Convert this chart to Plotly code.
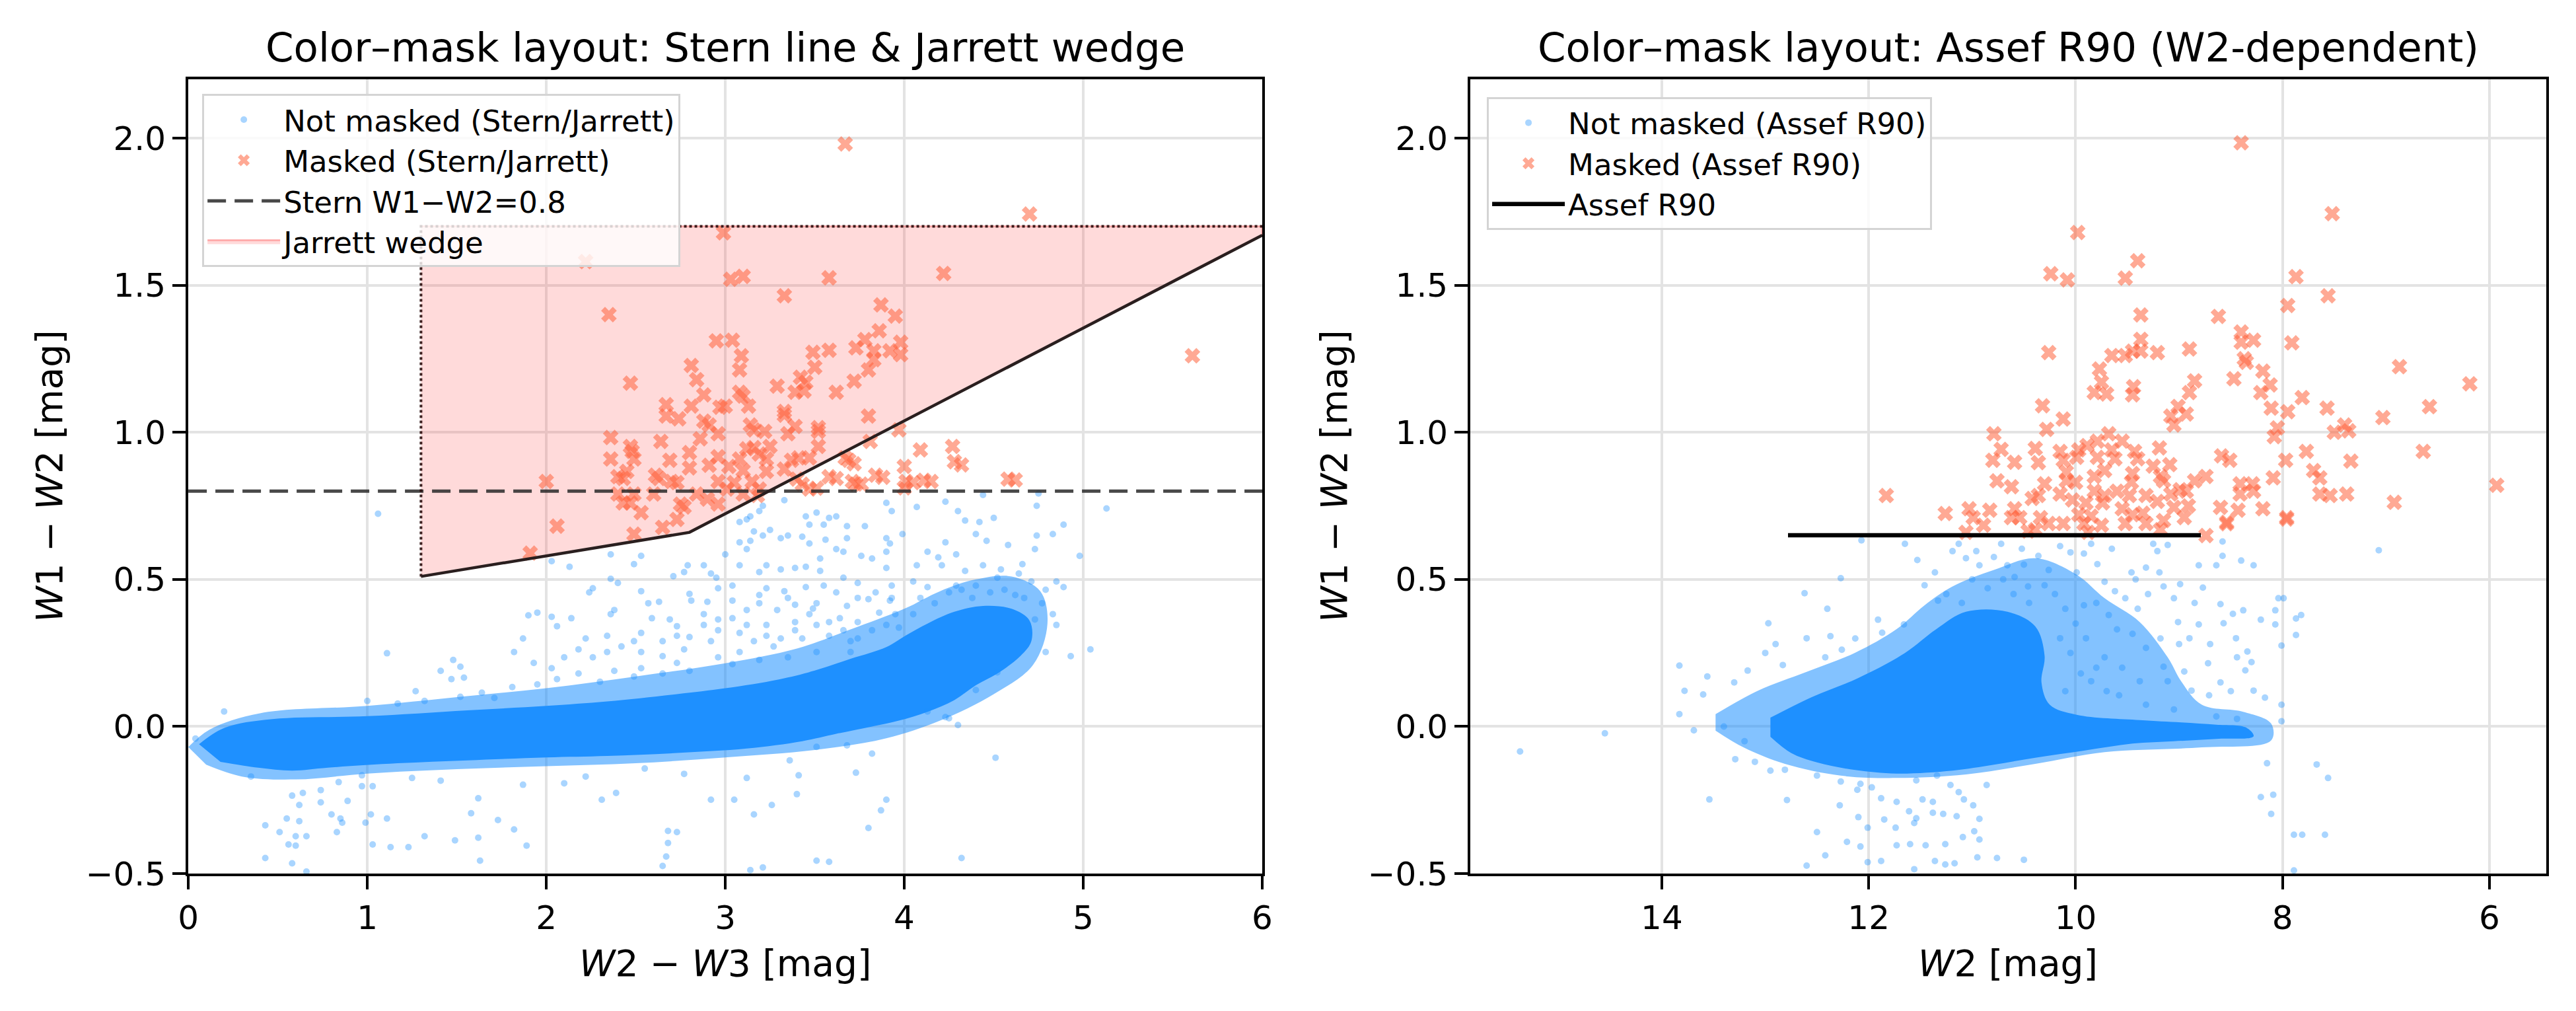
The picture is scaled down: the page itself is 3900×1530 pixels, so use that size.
import plotly.graph_objects as go

# ---------------- left panel: W2-W3 vs W1-W2 (Stern / Jarrett) ----------------
left_xrange = [0, 6]
left_yrange = [-0.5, 2.2]
stern_cut = 0.8
wedge_x = [1.3, 2.8, 6.0, 6.0, 1.3]
wedge_y = [0.51, 0.66, 1.67, 1.70, 1.70]

# dense band (solid) and its halo, outlines
stern_core = [(0.06, -0.06), (0.2, -0.005), (0.47, 0.025), (1.0, 0.035), (1.56, 0.055), (2.0, 0.07),
              (2.34, 0.085), (2.73, 0.11), (3.0, 0.13), (3.3, 0.16), (3.5, 0.19), (3.7, 0.23),
              (3.9, 0.27), (4.01, 0.31), (4.13, 0.35), (4.28, 0.39), (4.44, 0.41), (4.6, 0.40),
              (4.7, 0.36), (4.71, 0.29), (4.65, 0.24), (4.52, 0.18), (4.40, 0.14), (4.28, 0.09),
              (4.13, 0.05), (3.97, 0.02), (3.82, 0.0), (3.62, -0.025), (3.43, -0.05), (3.12, -0.075),
              (2.73, -0.09), (2.34, -0.10), (2.0, -0.105), (1.56, -0.115), (1.17, -0.125), (0.78, -0.14),
              (0.58, -0.15), (0.39, -0.14), (0.18, -0.12)]
stern_fringe = [(0.0, -0.07), (0.12, -0.01), (0.4, 0.045), (1.0, 0.07), (1.5, 0.10), (2.0, 0.13),
                (2.5, 0.17), (3.0, 0.215), (3.4, 0.265), (3.7, 0.33), (4.0, 0.40), (4.2, 0.46), (4.4, 0.50),
                (4.6, 0.51), (4.76, 0.46), (4.8, 0.35), (4.72, 0.21), (4.5, 0.11), (4.2, 0.02), (3.9, -0.04),
                (3.5, -0.08), (3.0, -0.105), (2.5, -0.125), (2.0, -0.135), (1.5, -0.145), (1.0, -0.16),
                (0.6, -0.18), (0.3, -0.17), (0.1, -0.13)]

stern_clear = [
    (1.06, 0.723), (1.11, 0.249), (1.48, 0.226), (1.52, 0.203), (1.41, 0.189), (1.47, 0.161), (1.54, 0.166),
    (1.82, 0.253), (1.87, 0.299), (1.95, 0.387), (1.90, 0.378), (2.03, 0.373), (2.14, 0.368), (2.06, 0.341),
    (2.13, 0.543), (2.03, 0.562), (2.36, 0.585), (2.53, 0.580), (2.49, 0.552), (2.24, 0.456), (2.26, 0.470),
    (2.36, 0.502), (2.40, 0.488), (2.53, 0.460), (2.38, 0.396), (2.36, 0.382), (2.57, 0.419), (2.63, 0.424),
    (2.59, 0.368), (2.69, 0.364), (2.73, 0.341), (2.80, 0.451), (2.81, 0.428), (2.90, 0.424), (2.88, 0.548),
    (2.79, 0.548), (2.71, 0.511), (2.77, 0.525), (2.92, 0.520), (2.95, 0.506), (3.04, 0.479), (2.96, 0.470),
    (3.00, 0.585), (3.08, 0.626), (3.14, 0.631), (3.12, 0.603), (3.21, 0.649), (3.16, 0.663), (3.25, 0.668),
    (3.31, 0.640), (3.12, 0.704), (3.08, 0.695), (3.14, 0.714), (3.19, 0.732), (3.21, 0.750), (3.33, 0.769),
    (3.45, 0.714), (3.51, 0.727), (3.47, 0.686), (3.55, 0.686), (3.68, 0.681), (3.78, 0.681), (3.58, 0.709),
    (3.62, 0.714), (3.35, 0.649), (3.43, 0.645), (3.47, 0.622), (3.56, 0.635), (3.68, 0.640), (3.90, 0.640),
    (3.99, 0.654), (3.92, 0.622), (4.07, 0.746), (3.90, 0.760), (3.93, 0.732), (4.23, 0.764), (4.30, 0.732),
    (4.34, 0.700), (4.42, 0.695), (4.50, 0.709), (4.44, 0.787), (4.75, 0.792), (4.74, 0.750), (4.89, 0.686),
    (4.83, 0.654), (4.74, 0.649), (4.73, 0.603), (4.98, 0.580), (5.13, 0.741), (4.40, 0.654), (4.46, 0.631),
    (4.58, 0.617), (4.23, 0.626), (4.13, 0.594), (4.19, 0.575), (4.29, 0.585), (4.07, 0.548), (4.21, 0.548),
    (4.34, 0.529), (4.44, 0.548), (4.54, 0.534), (4.66, 0.552), (4.64, 0.520), (4.52, 0.506), (4.71, 0.493),
    (4.85, 0.493), (4.89, 0.474), (4.79, 0.465), (3.90, 0.594), (3.90, 0.539), (3.82, 0.571), (3.76, 0.580),
    (3.66, 0.594), (3.62, 0.603), (3.53, 0.571), (3.53, 0.529), (3.39, 0.539), (3.31, 0.534), (3.45, 0.543),
    (3.23, 0.548), (3.19, 0.525), (3.08, 0.548), (3.23, 0.470), (3.33, 0.460), (3.45, 0.474), (3.55, 0.479),
    (3.66, 0.506), (3.74, 0.488), (3.84, 0.456), (3.93, 0.479), (4.05, 0.493), (3.92, 0.428), (3.80, 0.433),
    (3.68, 0.410), (3.49, 0.401), (3.39, 0.414), (3.29, 0.396), (3.19, 0.419), (3.12, 0.396), (3.04, 0.368),
    (2.96, 0.364), (2.88, 0.382), (3.12, 0.345), (3.23, 0.345), (3.39, 0.355), (3.51, 0.345), (3.64, 0.368),
    (3.74, 0.355), (3.86, 0.387), (3.95, 0.382), (2.80, 0.304), (2.92, 0.290), (2.77, 0.262), (2.65, 0.239),
    (2.53, 0.253), (2.49, 0.290), (2.34, 0.308), (2.22, 0.299), (2.18, 0.262), (2.10, 0.235), (2.03, 0.198),
    (1.93, 0.216), (2.18, 0.180), (2.38, 0.189), (2.53, 0.198), (2.73, 0.216), (2.96, 0.235), (3.08, 0.253),
    (3.27, 0.272), (3.43, 0.299), (3.58, 0.308), (3.70, 0.290), (5.04, 0.262), (4.93, 0.239), (4.79, 0.253),
    (4.85, 0.345), (4.83, 0.382), (4.73, 0.364), (4.77, 0.419), (4.52, 0.184), (4.40, 0.124), (4.30, 0.005),
    (4.23, 0.032), (4.13, 0.051), (4.51, -0.106), (3.82, -0.092), (3.68, -0.064), (3.51, -0.069), (4.25, 0.028),
    (1.00, 0.087), (1.17, 0.078), (1.27, 0.120), (1.32, 0.087), (1.52, 0.101), (1.64, 0.115), (1.71, 0.097),
    (1.81, 0.134), (1.95, 0.143), (2.06, 0.161), (2.30, 0.152), (2.49, 0.170), (2.65, 0.180), (2.80, 0.189),
    (3.04, 0.212), (3.19, 0.226), (3.35, 0.235), (3.51, 0.253), (3.70, 0.253),
    (4.09, 0.437), (4.17, 0.419), (4.25, 0.456), (4.32, 0.465), (4.38, 0.437), (4.48, 0.456), (4.56, 0.465),
    (4.62, 0.447), (4.67, 0.437), (4.29, 0.479), (4.40, 0.479), (4.13, 0.474), (3.39, 0.327), (3.47, 0.382),
    (3.58, 0.355), (3.66, 0.327), (3.74, 0.299), (3.82, 0.327), (3.90, 0.345), (3.97, 0.336), (4.05, 0.382),
    (3.31, 0.299), (3.23, 0.308), (3.16, 0.290), (3.08, 0.318), (2.96, 0.327), (2.88, 0.345), (2.73, 0.308),
    (2.65, 0.290), (2.53, 0.318), (2.42, 0.272), (2.34, 0.253), (2.26, 0.235), (3.51, 0.419), (3.62, 0.456),
    (3.74, 0.437), (3.93, 0.437), (3.35, 0.437), (3.19, 0.447), (3.04, 0.428),
    (0.20, 0.051), (0.04, -0.041), (0.35, -0.170), (0.58, -0.235), (0.64, -0.226), (0.62, -0.267),
    (0.74, -0.216), (0.74, -0.258), (0.84, -0.189), (0.89, -0.253), (0.97, -0.203), (1.03, -0.203),
    (0.43, -0.336), (0.55, -0.313), (0.62, -0.322), (0.51, -0.359), (0.60, -0.373), (0.66, -0.373),
    (0.56, -0.401), (0.60, -0.405), (0.43, -0.447), (0.58, -0.465), (0.66, -0.493), (0.80, -0.299),
    (0.85, -0.313), (0.83, -0.359), (0.86, -0.327), (0.99, -0.327), (1.02, -0.299), (1.11, -0.313),
    (1.03, -0.401), (1.13, -0.410), (1.23, -0.410), (1.32, -0.373), (1.49, -0.387), (1.58, -0.295),
    (1.62, -0.244), (1.62, -0.378), (1.63, -0.456), (1.73, -0.318), (1.82, -0.350), (1.89, -0.405),
    (1.87, -0.198), (1.41, -0.184), (1.25, -0.175), (0.97, -0.166), (2.10, -0.193), (2.22, -0.170),
    (2.39, -0.226), (2.31, -0.249), (2.55, -0.143), (2.77, -0.161), (2.92, -0.249), (3.05, -0.249),
    (3.12, -0.175), (3.26, -0.267), (3.16, -0.299), (3.40, -0.230), (3.41, -0.166), (3.36, -0.115),
    (3.73, -0.157), (3.90, -0.249), (3.87, -0.285), (3.80, -0.345), (2.68, -0.355), (2.73, -0.359),
    (2.68, -0.396), (2.67, -0.442), (2.65, -0.474), (3.14, -0.488), (3.21, -0.479), (3.51, -0.456),
    (3.58, -0.460), (4.32, -0.447)]

stern_masked = [
    (3.67, 1.98), (4.70, 1.742), (2.99, 1.678), (2.22, 1.58), (3.03, 1.52), (3.10, 1.53), (3.58, 1.525),
    (4.22, 1.54), (3.33, 1.464), (2.35, 1.40), (3.87, 1.433), (3.95, 1.395), (2.95, 1.311), (3.04, 1.313),
    (3.86, 1.345), (3.78, 1.315), (3.98, 1.306), (3.98, 1.264), (3.73, 1.287), (3.92, 1.277), (3.83, 1.277),
    (3.83, 1.247), (3.49, 1.272), (3.58, 1.279), (3.09, 1.26), (3.08, 1.212), (3.50, 1.221), (3.80, 1.212),
    (2.81, 1.227), (2.84, 1.179), (2.47, 1.167), (3.42, 1.187), (3.45, 1.170), (3.72, 1.174), (3.29, 1.157),
    (2.88, 1.127), (3.08, 1.136), (3.10, 1.123), (3.39, 1.136), (3.44, 1.14), (3.62, 1.136), (2.67, 1.094),
    (2.81, 1.089), (3.00, 1.089), (2.97, 1.085), (3.13, 1.089), (3.33, 1.071), (3.33, 1.058), (3.80, 1.055),
    (2.67, 1.055), (2.74, 1.046), (2.88, 1.038), (2.91, 1.025), (3.14, 1.025), (3.16, 1.008), (3.22, 1.003),
    (3.39, 1.02), (3.35, 0.995), (3.52, 1.016), (3.52, 1.003), (2.96, 0.995), (3.97, 1.008), (2.36, 0.982),
    (2.64, 0.969), (2.86, 0.978), (3.81, 0.969), (2.47, 0.952), (2.48, 0.935), (2.80, 0.931), (3.12, 0.944),
    (3.16, 0.948), (3.25, 0.952), (4.09, 0.94), (4.27, 0.952), (4.28, 0.90), (2.36, 0.909), (2.49, 0.909),
    (2.69, 0.905), (2.80, 0.879), (2.91, 0.888), (2.96, 0.917), (3.02, 0.884), (3.08, 0.909), (3.10, 0.870),
    (3.19, 0.926), (3.23, 0.909), (3.23, 0.867), (3.37, 0.905), (3.41, 0.913), (3.47, 0.913), (3.52, 0.952),
    (3.33, 0.875), (3.67, 0.913), (3.69, 0.905), (2.00, 0.833), (2.40, 0.849), (2.45, 0.867), (2.61, 0.854),
    (2.70, 0.833), (2.40, 0.79), (2.49, 0.79), (2.60, 0.79), (3.58, 0.849), (3.84, 0.854), (3.71, 0.833),
    (3.73, 0.824), (4.01, 0.833), (4.11, 0.837), (4.58, 0.841), (4.00, 0.811), (2.84, 0.79), (2.96, 0.833),
    (3.01, 0.807), (3.05, 0.829), (3.15, 0.833), (3.19, 0.807), (3.40, 0.841), (3.47, 0.807), (2.96, 0.756),
    (2.75, 0.756), (2.47, 0.76), (2.06, 0.681), (1.91, 0.589), (2.49, 0.654), (2.43, 0.760), (2.53, 0.727),
    (2.73, 0.704), (2.77, 0.746), (2.65, 0.677), (2.90, 0.773), (2.43, 0.843), (2.63, 0.843), (2.73, 0.829),
    (3.62, 0.843), (3.76, 0.824), (3.88, 0.847), (4.05, 0.829), (4.15, 0.833), (4.62, 0.838), (4.32, 0.889),
    (4.00, 0.884), (3.72, 0.893), (3.43, 0.824), (3.51, 0.81), (5.61, 1.26), (3.10, 0.79), (3.18, 0.785)]

# ---------------- right panel: W2 vs W1-W2 (Assef R90) ----------------
right_xrange = [15.85, 5.45]
right_yrange = [-0.5, 2.2]
assef_x = [12.78, 8.79]
assef_y = [0.65, 0.65]

assef_core = [(12.95, 0.03), (12.55, 0.10), (12.1, 0.165), (11.65, 0.25), (11.35, 0.33), (11.06, 0.39),
              (10.66, 0.39), (10.39, 0.34), (10.30, 0.24), (10.33, 0.15), (10.25, 0.074), (9.99, 0.04),
              (9.38, 0.022), (8.98, 0.014), (8.64, 0.006), (8.35, -0.004), (8.28, -0.033), (8.64, -0.042),
              (9.05, -0.05), (9.45, -0.058), (9.92, -0.082), (10.39, -0.106), (10.79, -0.13), (11.19, -0.15),
              (11.73, -0.16), (12.13, -0.148), (12.5, -0.122), (12.75, -0.09), (12.95, -0.035)]
assef_fringe = [(13.48, 0.042), (13.07, 0.122), (12.60, 0.186), (12.13, 0.251), (11.73, 0.331), (11.46, 0.412),
                (11.19, 0.476), (10.79, 0.532), (10.39, 0.572), (9.99, 0.516), (9.72, 0.436), (9.38, 0.355),
                (9.11, 0.235), (8.98, 0.154), (8.78, 0.074), (8.38, 0.050), (8.11, 0.010), (8.11, -0.047),
                (8.78, -0.071), (9.72, -0.087), (10.39, -0.127), (11.06, -0.163), (11.73, -0.175), (12.27, -0.167),
                (12.81, -0.127), (13.21, -0.071), (13.48, -0.014)]

assef_clear = [
    (15.37, -0.085), (14.55, -0.023), (13.83, 0.207), (13.83, 0.042), (13.78, 0.121), (13.60, 0.109),
    (13.56, 0.170), (13.69, -0.013), (13.54, -0.248), (13.29, -0.111), (13.17, 0.190), (12.97, 0.351),
    (12.83, 0.209), (12.79, -0.250), (12.62, 0.453), (12.42, 0.235), (12.37, 0.307), (12.27, 0.504),
    (12.26, 0.261), (12.13, 0.299), (12.07, 0.633), (11.91, 0.363), (11.87, 0.319), (11.66, 0.347),
    (11.65, 0.621), (11.53, 0.566), (11.46, 0.480), (11.36, 0.524), (11.33, 0.428), (11.19, 0.596),
    (11.13, 0.621), (11.06, 0.572), (10.96, 0.596), (10.93, 0.548), (10.79, 0.576), (10.72, 0.621),
    (10.66, 0.548), (10.59, 0.508), (10.52, 0.604), (10.46, 0.476), (10.36, 0.580), (10.26, 0.532),
    (10.15, 0.613), (10.05, 0.592), (9.99, 0.524), (9.92, 0.588), (9.85, 0.621), (9.79, 0.552),
    (9.72, 0.492), (9.65, 0.604), (9.62, 0.460), (9.52, 0.436), (9.46, 0.524), (9.42, 0.500),
    (9.32, 0.540), (9.25, 0.621), (9.21, 0.596), (9.19, 0.524), (9.11, 0.617), (9.15, 0.476),
    (9.05, 0.436), (9.01, 0.355), (8.99, 0.484), (8.85, 0.420), (8.81, 0.548), (8.81, 0.347),
    (8.77, 0.472), (8.72, 0.215), (8.64, 0.548), (8.60, 0.416), (8.58, 0.629), (8.58, 0.580),
    (8.57, 0.351), (8.48, 0.383), (8.40, 0.564), (8.38, 0.395), (8.44, 0.235), (8.34, 0.255),
    (8.30, 0.219), (8.28, 0.548), (8.36, 0.191), (8.28, 0.122), (8.21, 0.363), (8.17, 0.098),
    (8.07, 0.395), (8.07, 0.347), (8.04, 0.436), (8.01, 0.275), (8.01, 0.074), (7.99, 0.436),
    (8.01, 0.018), (7.87, 0.311), (7.87, 0.367), (7.82, 0.379), (7.07, 0.599), (8.15, -0.125),
    (7.67, -0.129), (7.56, -0.175), (8.21, -0.240), (8.09, -0.232), (8.11, -0.297), (7.89, -0.368),
    (7.81, -0.368), (7.59, -0.368), (7.89, -0.489), (8.71, 0.106), (8.44, 0.026), (8.64, 0.034),
    (9.05, 0.058), (9.32, 0.074), (9.58, 0.106), (9.85, 0.154), (9.38, 0.154), (9.11, 0.154),
    (9.72, 0.235), (9.32, 0.267), (9.15, 0.203), (8.95, 0.187), (8.88, 0.122), (9.45, 0.315),
    (9.18, 0.299), (9.68, 0.379), (9.92, 0.412),
    (10.2, 0.45), (10.1, 0.40), (10.0, 0.35), (10.15, 0.30), (10.05, 0.25), (9.9, 0.30), (9.8, 0.20),
    (9.95, 0.18), (10.1, 0.12), (9.7, 0.12), (9.55, 0.20), (9.6, 0.33), (9.8, 0.42), (10.3, 0.48),
    (10.45, 0.42), (10.6, 0.45), (10.7, 0.50), (10.85, 0.47), (11.0, 0.50), (11.25, 0.45), (11.1, 0.42),
    (10.5, 0.55), (9.4, 0.40), (9.3, 0.45), (9.0, 0.28), (8.9, 0.30), (8.7, 0.28), (8.6, 0.15), (8.5, 0.12),
    (8.45, 0.30), (13.0, 0.25), (13.3, 0.15), (13.4, 0.0), (13.2, -0.05), (12.9, 0.28), (12.6, 0.30),
    (12.4, 0.40), (13.1, -0.12), (12.95, -0.15),
    (12.81, -0.147), (12.50, -0.167), (12.27, -0.187), (12.08, -0.195), (11.97, -0.207), (12.11, -0.215),
    (11.54, -0.183), (11.34, -0.167), (11.21, -0.199), (10.86, -0.199), (11.13, -0.223), (11.08, -0.248),
    (10.99, -0.268), (10.93, -0.314), (11.15, -0.305), (11.28, -0.297), (11.38, -0.293), (11.48, -0.248),
    (11.38, -0.256), (11.61, -0.288), (11.54, -0.312), (11.56, -0.328), (11.73, -0.256), (11.88, -0.244),
    (11.85, -0.316), (12.10, -0.308), (12.01, -0.344), (11.74, -0.344), (12.50, -0.359), (12.28, -0.268),
    (12.21, -0.392), (12.08, -0.408), (11.73, -0.404), (11.60, -0.400), (11.45, -0.404), (11.26, -0.400),
    (11.09, -0.376), (10.98, -0.356), (10.93, -0.384), (12.42, -0.438), (12.60, -0.473), (12.01, -0.461),
    (11.88, -0.457), (11.36, -0.457), (11.26, -0.469), (11.17, -0.465), (10.95, -0.445), (10.76, -0.447),
    (10.50, -0.453), (11.56, -0.485)]

assef_masked = [
    (8.40, 1.984), (7.52, 1.743), (9.98, 1.679), (9.40, 1.583), (10.24, 1.539), (10.08, 1.518), (9.52, 1.524),
    (7.87, 1.529), (7.56, 1.464), (7.95, 1.431), (9.37, 1.399), (8.62, 1.394), (8.40, 1.341), (8.40, 1.306),
    (8.28, 1.313), (7.91, 1.304), (9.37, 1.316), (10.26, 1.271), (9.65, 1.261), (9.52, 1.261), (9.45, 1.276),
    (9.37, 1.276), (9.21, 1.271), (8.90, 1.283), (8.37, 1.250), (8.35, 1.238), (6.87, 1.223), (9.77, 1.215),
    (9.75, 1.170), (8.19, 1.208), (8.47, 1.182), (8.85, 1.175), (8.12, 1.161), (6.19, 1.165), (9.44, 1.155),
    (9.82, 1.135), (9.70, 1.130), (9.45, 1.127), (8.90, 1.135), (8.21, 1.135), (7.81, 1.118), (10.32, 1.090),
    (9.01, 1.088), (8.11, 1.082), (7.95, 1.070), (7.57, 1.082), (6.58, 1.087), (9.08, 1.055), (8.93, 1.062),
    (9.05, 1.025), (10.12, 1.045), (7.03, 1.050), (8.05, 1.015), (8.08, 0.985), (7.50, 1.0), (7.40, 1.025),
    (7.36, 1.005), (10.79, 0.995), (10.28, 1.010), (9.68, 0.995), (9.55, 0.970), (9.79, 0.970), (9.89, 0.955),
    (9.97, 0.940), (9.19, 0.947), (6.64, 0.935), (7.77, 0.935), (10.72, 0.942), (10.80, 0.905), (10.59, 0.898),
    (10.39, 0.945), (10.36, 0.897), (10.15, 0.935), (10.12, 0.905), (9.99, 0.915), (9.79, 0.915), (9.65, 0.940),
    (9.62, 0.910), (9.43, 0.935), (9.40, 0.910), (9.25, 0.885), (9.09, 0.890), (8.59, 0.920), (8.51, 0.905),
    (7.97, 0.905), (7.34, 0.902), (7.70, 0.870), (7.64, 0.845), (8.09, 0.845), (8.74, 0.850), (8.85, 0.835),
    (9.18, 0.850), (9.15, 0.835), (9.45, 0.860), (9.46, 0.830), (9.72, 0.870), (9.82, 0.850), (10.09, 0.865),
    (10.09, 0.835), (10.76, 0.835), (10.62, 0.815), (10.30, 0.825), (10.36, 0.785), (10.42, 0.775),
    (10.15, 0.790), (10.03, 0.770), (9.82, 0.800), (9.72, 0.785), (9.74, 0.760), (9.48, 0.785), (9.32, 0.785),
    (9.21, 0.765), (9.08, 0.790), (9.05, 0.745), (8.93, 0.800), (8.91, 0.750), (8.99, 0.805), (8.41, 0.825),
    (8.29, 0.825), (8.41, 0.790), (8.28, 0.800), (7.64, 0.790), (7.54, 0.785), (7.38, 0.790), (6.92, 0.762),
    (5.93, 0.820), (11.83, 0.785), (11.26, 0.724), (11.03, 0.740), (10.99, 0.710), (10.89, 0.684),
    (10.83, 0.735), (10.62, 0.710), (10.59, 0.740), (10.54, 0.710), (10.34, 0.710), (10.26, 0.690),
    (10.12, 0.690), (9.97, 0.720), (9.92, 0.690), (9.85, 0.715), (9.75, 0.684), (9.52, 0.690), (9.45, 0.720),
    (9.35, 0.725), (9.32, 0.690), (9.15, 0.700), (8.95, 0.710), (8.60, 0.745), (8.54, 0.694), (8.43, 0.735),
    (8.19, 0.740), (7.96, 0.710), (11.06, 0.660), (10.46, 0.664), (10.39, 0.669), (9.18, 0.669), (8.74, 0.649),
    (8.54, 0.689), (7.96, 0.705), (9.90, 0.76), (9.60, 0.80), (10.0, 0.83), (9.55, 0.74), (9.88, 0.66)]

FONT = "DejaVu Sans"
BLUE_DOT = "rgba(30,144,255,0.38)"
ORANGE = "rgba(255,99,60,0.55)"


def split(pts):
    return [p[0] for p in pts], [p[1] for p in pts]


def add_panel_points(fig, core, fringe, clear, masked, xa, ya, lg, clear_name, masked_name):
    fx, fy = split(fringe)
    fig.add_trace(go.Scatter(x=fx, y=fy, fill="toself", mode="lines", line=dict(width=0, shape="spline"),
                             fillcolor="rgba(30,144,255,0.55)", showlegend=False, hoverinfo="skip",
                             xaxis=xa, yaxis=ya))
    cx, cy = split(core)
    fig.add_trace(go.Scatter(x=cx, y=cy, fill="toself", mode="lines", line=dict(width=0, shape="spline"),
                             fillcolor="rgb(30,144,255)", showlegend=False, hoverinfo="skip",
                             xaxis=xa, yaxis=ya))
    bx, by = split(clear)
    fig.add_trace(go.Scatter(x=bx, y=by, mode="markers", name=clear_name, legend=lg, legendrank=1,
                             marker=dict(size=10, color=BLUE_DOT, line=dict(width=0)),
                             xaxis=xa, yaxis=ya))
    mx, my = split(masked)
    fig.add_trace(go.Scatter(x=mx, y=my, mode="markers", name=masked_name, legend=lg, legendrank=2,
                             marker=dict(symbol="x", size=21, color=ORANGE, line=dict(width=0)),
                             xaxis=xa, yaxis=ya))


fig = go.Figure()

# Jarrett wedge fill (under the points)
fig.add_trace(go.Scatter(x=wedge_x, y=wedge_y, fill="toself", mode="lines", name="Jarrett wedge",
                         legend="legend", legendrank=4,
                         line=dict(color="rgba(255,60,60,0.35)", width=3),
                         fillcolor="rgba(255,70,70,0.2)", xaxis="x", yaxis="y"))

add_panel_points(fig, stern_core, stern_fringe, stern_clear, stern_masked, "x", "y", "legend",
                 "Not masked (Stern/Jarrett)", "Masked (Stern/Jarrett)")

fig.add_trace(go.Scatter(x=left_xrange, y=[stern_cut, stern_cut], mode="lines", name="Stern W1\u2212W2=0.8",
                         legend="legend", legendrank=3,
                         line=dict(color="rgba(40,40,40,0.85)", width=5, dash="28px,13px"),
                         xaxis="x", yaxis="y"))

# wedge borders: dotted left/top edges, solid lower edge
fig.add_trace(go.Scatter(x=[wedge_x[0], wedge_x[4], wedge_x[3]], y=[wedge_y[0], wedge_y[4], wedge_y[3]],
                         mode="lines", showlegend=False, hoverinfo="skip",
                         line=dict(color="rgba(40,10,10,0.9)", width=4, dash="dot"), xaxis="x", yaxis="y"))
fig.add_trace(go.Scatter(x=wedge_x[:3], y=wedge_y[:3], mode="lines", showlegend=False, hoverinfo="skip",
                         line=dict(color="#2a1f1f", width=4.5), xaxis="x", yaxis="y"))

add_panel_points(fig, assef_core, assef_fringe, assef_clear, assef_masked, "x2", "y2", "legend2",
                 "Not masked (Assef R90)", "Masked (Assef R90)")

fig.add_trace(go.Scatter(x=assef_x, y=assef_y, mode="lines", name="Assef R90", legend="legend2",
                         legendrank=3, line=dict(color="black", width=6.5), xaxis="x2", yaxis="y2"))

axis_style = dict(showline=True, mirror=True, linecolor="black", linewidth=4, ticks="outside",
                  ticklen=20, tickwidth=4, tickcolor="black", showgrid=True, gridcolor="#e3e3e3",
                  gridwidth=3.5, zeroline=False, automargin=False,
                  tickfont=dict(family=FONT, size=50, color="black"))

legend_style = dict(xanchor="left", yanchor="top", bgcolor="rgba(255,255,255,0.8)",
                    bordercolor="#d4d4d4", borderwidth=3, font=dict(family=FONT, size=45),
                    itemwidth=110, traceorder="normal")

y_dom = [0.1359, 0.9216]
fig.update_layout(
    width=3900, height=1530,
    margin=dict(l=0, r=0, t=0, b=0, pad=0, autoexpand=False),
    plot_bgcolor="white", paper_bgcolor="white",
    font=dict(family=FONT, color="black"),
    xaxis=dict(domain=[0.0731, 0.4900], range=left_xrange, dtick=1, anchor="y", **axis_style),
    yaxis=dict(domain=y_dom, range=left_yrange, dtick=0.5, tickformat=".1f", anchor="x", **axis_style),
    xaxis2=dict(domain=[0.5708, 0.9885], range=right_xrange, tickvals=[14, 12, 10, 8, 6], anchor="y2",
                **axis_style),
    yaxis2=dict(domain=y_dom, range=right_yrange, dtick=0.5, tickformat=".1f", anchor="x2", **axis_style),
    legend=dict(x=0.0785, y=0.907, **legend_style),
    legend2=dict(x=0.5772, y=0.904, **legend_style),
)

titles = [(0.2815, "Color\u2013mask layout: Stern line & Jarrett wedge"),
          (0.7796, "Color\u2013mask layout: Assef R90 (W2-dependent)")]
for xc, txt in titles:
    fig.add_annotation(x=xc, y=0.953, xref="paper", yref="paper", text=txt, showarrow=False,
                       xanchor="center", yanchor="middle", font=dict(family=FONT, size=61))

xlabels = [(0.2815, "<i>W</i>2 \u2212 <i>W</i>3 [mag]"), (0.7796, "<i>W</i>2 [mag]")]
for xc, txt in xlabels:
    fig.add_annotation(x=xc, y=0.047, xref="paper", yref="paper", text=txt, showarrow=False,
                       xanchor="center", yanchor="middle", font=dict(family=FONT, size=55))

for xc in [0.0192, 0.5179]:
    fig.add_annotation(x=xc, y=0.5288, xref="paper", yref="paper", text="<i>W</i>1 \u2212 <i>W</i>2 [mag]",
                       showarrow=False, textangle=-90, xanchor="center", yanchor="middle",
                       font=dict(family=FONT, size=55))

# page without body margin so the 3900x1530 figure fills the window exactly
fig.write_html("out.html", config={"displayModeBar": False},
               post_script="document.body.style.margin='0';document.body.style.overflow='hidden';")
